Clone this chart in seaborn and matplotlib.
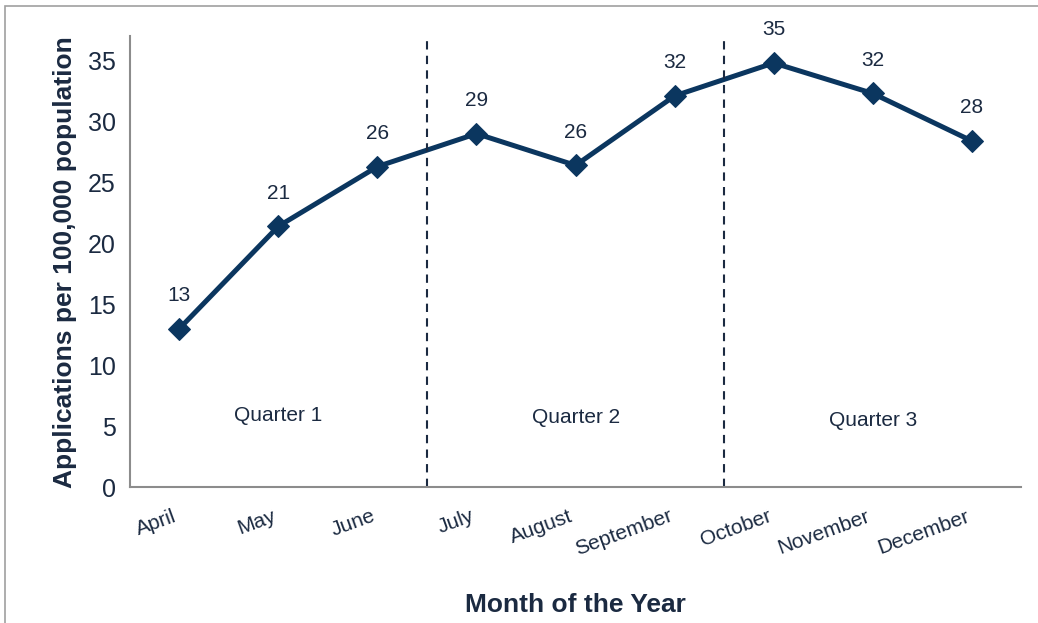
import pandas as pd
import matplotlib.pyplot as plt
import seaborn as sns
from matplotlib.patches import Rectangle

# data
months = ['April', 'May', 'June', 'July', 'August', 'September',
          'October', 'November', 'December']
rates = [13.0, 21.4, 26.3, 29.0, 26.4, 32.1, 34.8, 32.3, 28.4]
rate_labels = ['13', '21', '26', '29', '26', '32', '35', '32', '28']

quarter_names = ['Quarter 1', 'Quarter 2', 'Quarter 3']
quarter_x = [1, 4, 7]
quarter_y = [5.9, 5.7, 5.5]
quarter_breaks = [2.5, 5.5]

line_col = '#0b365f'
text_col = '#1b2a41'
axis_col = '#8c8c8c'

sns.set_style('white')
plt.rcParams['font.family'] = ['Liberation Sans', 'DejaVu Sans']

df = pd.DataFrame({'Month': months, 'Rate': rates})

fig = plt.figure(figsize=(10.38, 6.23), dpi=100)
ax = fig.add_axes([0.125, 0.218, 0.859, 0.724])

# light frame around the chart (only top/left visible in the reference)
fig.patches.append(Rectangle((0.005, -0.2), 1.2, 1.19, transform=fig.transFigure,
                             fill=False, edgecolor='#a0a0a0', linewidth=1.2))

sns.lineplot(data=df, x='Month', y='Rate', ax=ax, color=line_col, linewidth=3.6,
             marker='D', markersize=11, markeredgecolor=line_col, sort=False)

for i, (v, lab) in enumerate(zip(rates, rate_labels)):
    ax.annotate(lab, (i, v), xytext=(0, 17), textcoords='offset points',
                ha='center', va='bottom', fontsize=15, color=text_col)

for xb in quarter_breaks:
    ax.axvline(xb, color=text_col, linestyle=(0, (4, 3)), linewidth=1.5)

for name, qx, qy in zip(quarter_names, quarter_x, quarter_y):
    ax.text(qx, qy, name, ha='center', va='center', fontsize=15, color=text_col)

ax.set_xlim(-0.5, len(months) - 0.5)
ax.set_ylim(0, 37)
ax.set_yticks(range(0, 36, 5))

# category labels centred, tick marks between categories
ax.set_xticks(range(len(months)))
ax.set_xticklabels(months, rotation=20, ha='right', fontsize=15, color=text_col)
ax.set_xticks([i - 0.5 for i in range(len(months) + 1)], minor=True)
ax.tick_params(axis='x', which='major', length=0, pad=14)
ax.tick_params(axis='x', which='minor', length=6, width=1.5, color=axis_col, direction='out')
ax.tick_params(axis='y', length=6, width=1.5, color=axis_col, direction='out',
               labelsize=18, labelcolor=text_col, pad=4)

for side in ['top', 'right']:
    ax.spines[side].set_visible(False)
for side in ['left', 'bottom']:
    ax.spines[side].set_color(axis_col)
    ax.spines[side].set_linewidth(1.5)

ax.set_xlabel('Month of the Year', fontsize=19, fontweight='bold', color=text_col, labelpad=24)
ax.set_ylabel('Applications per 100,000 population', fontsize=19, fontweight='bold',
              color=text_col, labelpad=8)

fig.savefig('out.png', dpi=100)
